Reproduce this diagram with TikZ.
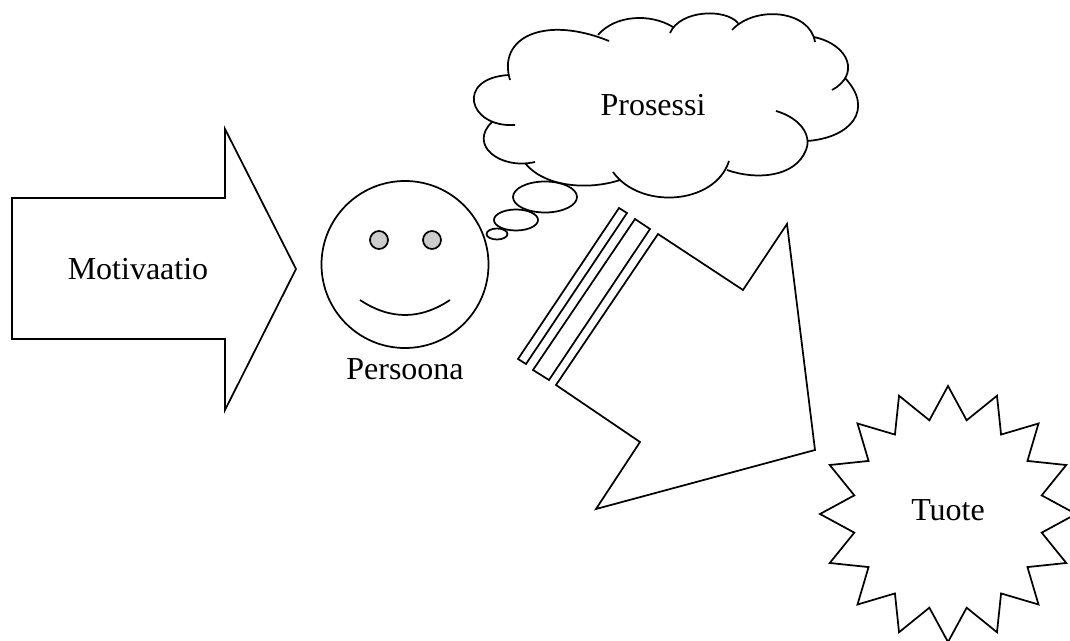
\documentclass[tikz,border=0pt]{standalone}
\usepackage{fontspec}
\setmainfont{Liberation Serif}
\usetikzlibrary{shapes.geometric}

\tikzset{
    outline/.style={black, line width=1.3pt, line join=miter},
    caption/.style={font=\fontsize{24}{28}\selectfont, inner sep=0pt}
}

\begin{document}
\begin{tikzpicture}[x=0.75pt, y=-0.75pt]
            \useasboundingbox (0,0) rectangle (1070,641);
            \def\faceradius{83.5}

            % Incoming arrow
            \draw[outline] (12,198) -- (225,198) -- (225,129) -- (296,269)
            -- (225,410) -- (225,339) -- (12,339) -- cycle;
            \node[caption] (motivaatio) at (138,269) {Motivaatio};

            % Head with eyes and smile
            \draw[outline] (405,264.5) circle[radius=\faceradius];
            \filldraw[outline, fill=black!20] (379,240) circle[radius=9];
            \filldraw[outline, fill=black!20] (432,240) circle[radius=9];
            \draw[outline] (360,300) .. controls (390,320) and (420,320) .. (450,300);
            \node[caption] (persoona) at (405,369) {Persoona};

            % Thought bubbles
            \draw[outline] (545,197) ellipse[x radius=32, y radius=15.5];
            \draw[outline] (516,220) ellipse[x radius=22, y radius=10.5];
            \draw[outline] (497,234) ellipse[x radius=10.5, y radius=5.5];

            % Cloud, one open stroke for each lobe
            \draw[outline]
            (510,80) .. controls (497,37) and (545,15) .. (609,41)
            (598,35) .. controls (615,15) and (650,13) .. (673,27)
            (670,33) .. controls (680,10) and (725,8) .. (738,23)
            (732,30) .. controls (755,5) and (810,10) .. (815,42)
            (814,37) .. controls (850,45) and (860,75) .. (832,90)
            (845,78) .. controls (875,110) and (850,138) .. (807,141)
            (776,111) .. controls (800,118) and (812,135) .. (806,150)
            .. controls (795,178) and (755,180) .. (727,170)
            (729,161) .. controls (715,205) and (640,210) .. (613,172)
            (620,180) .. controls (590,190) and (545,188) .. (525,163)
            (535,162) .. controls (500,170) and (468,145) .. (492,122)
            (515,125) .. controls (468,128) and (455,78) .. (509,75);
            \node[caption] (prosessi) at (653,105) {Prosessi};

            % Striped arrow towards the result
            \draw[outline] (619,208) -- (627,213) -- (526,364) -- (518,359) -- cycle;
            \draw[outline] (635,219) -- (650,229) -- (549,380) -- (533,370) -- cycle;
            \draw[outline] (658,234) -- (743,290) -- (787,224) -- (815,450)
            -- (596,509) -- (640,442) -- (556,385) -- cycle;

            % Result
            \node[outline, draw, star, star points=16, star point ratio=1.34,
            minimum size=192pt, inner sep=0pt] (burst) at (948,514) {};
            \node[caption] (tuote) at (948,510) {Tuote};
        \end{tikzpicture}
\end{document}
